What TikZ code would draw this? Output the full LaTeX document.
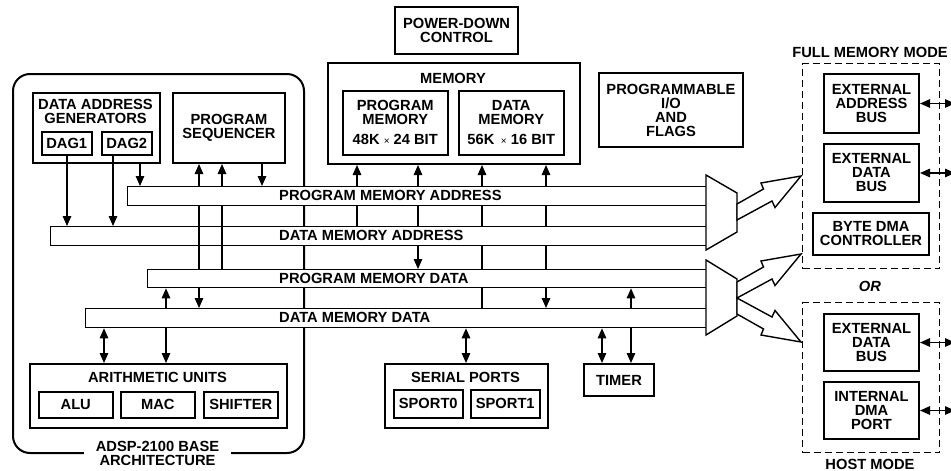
\documentclass[tikz,border=0pt]{standalone}
\usepackage{fontspec}
\setmainfont{Liberation Sans}
\usetikzlibrary{arrows.meta}
\begin{document}
\begin{tikzpicture}[x=1pt,y=-1pt,
  txt/.style={font=\fontsize{14.7}{14}\selectfont\bfseries, align=center, inner sep=0pt},
  mainbox/.style={draw, line width=2pt, fill=white, txt, anchor=north west},
  subbox/.style={draw, line width=1.5pt, fill=white, txt, anchor=north west},
  busbox/.style={draw, line width=1.3pt, fill=white, anchor=north west, inner sep=0pt},
  dashbox/.style={draw, line width=1.4pt, dash pattern=on 7pt off 4pt, anchor=north west, inner sep=0pt},
  conn/.style={line width=1.3pt},
  arr/.style={conn, -{Triangle[length=10pt,width=8.5pt]}},
  darr/.style={conn, {Triangle[length=10pt,width=8.5pt]}-{Triangle[length=10pt,width=8.5pt]}},
  muxst/.style={draw, line width=1.4pt, fill=white, line join=miter},
  boltst/.style={draw, line width=1.4pt, fill=white, line join=miter},
]
\useasboundingbox (0,0) rectangle (951,471);

% base architecture frame
\node[draw, line width=2pt, rounded corners=17pt, minimum width=291pt, minimum height=379pt, anchor=north west] (base) at (12,73) {};
\node[txt, fill=white, inner xsep=12pt, inner ysep=3pt] (baselbl) at (157.5,453.5) {ADSP-2100 BASE\\ARCHITECTURE};

% DAG and sequencer
\node[mainbox, minimum width=127pt, minimum height=70pt] (dag) at (32,92) {};
\node[txt] (dagt) at (95.5,111) {DATA ADDRESS\\GENERATORS};
\node[subbox, minimum width=50pt, minimum height=23pt] (dag1) at (41,131) {DAG1};
\node[subbox, minimum width=50pt, minimum height=23pt] (dag2) at (101,131) {DAG2};
\node[mainbox, minimum width=112pt, minimum height=70pt] (ps) at (172,92) {PROGRAM\\SEQUENCER};

% memory
\node[mainbox, minimum width=252pt, minimum height=101pt] (mem) at (327,62) {};
\node[txt] (memt) at (453,78) {MEMORY};
\node[subbox, minimum width=105pt, minimum height=64pt] (pm) at (342,90) {PROGRAM\\MEMORY\\[6pt]48K {\fontsize{10}{10}\selectfont\mdseries ×} 24 BIT};
\node[subbox, minimum width=105pt, minimum height=64pt] (dm) at (458,90) {DATA\\MEMORY\\[6pt]56K \,{\fontsize{10}{10}\selectfont\mdseries ×} 16 BIT};
\node[mainbox, minimum width=123pt, minimum height=47pt] (pd) at (394,6) {POWER-DOWN\\CONTROL};
\node[mainbox, minimum width=144pt, minimum height=74pt] (pio) at (598,72) {PROGRAMMABLE\\I/O\\AND\\FLAGS};

% buses
\node[busbox, minimum width=579pt, minimum height=19pt] (pma) at (127,186) {};
\node[txt, anchor=west] (pmat) at (279,195.5) {PROGRAM MEMORY ADDRESS};
\node[busbox, minimum width=656pt, minimum height=19pt] (dma) at (50,226) {};
\node[txt, anchor=west] (dmat) at (279,235.5) {DATA MEMORY ADDRESS};
\node[busbox, minimum width=559pt, minimum height=18pt] (pmd) at (147,269) {};
\node[txt, anchor=west] (pmdt) at (279,278) {PROGRAM MEMORY DATA};
\node[busbox, minimum width=621pt, minimum height=19pt] (dmd) at (85,308) {};
\node[txt, anchor=west] (dmdt) at (279,317.5) {DATA MEMORY DATA};

% lower blocks
\node[mainbox, minimum width=257pt, minimum height=64pt] (au) at (29,363) {};
\node[txt] (aut) at (157.5,377.5) {ARITHMETIC UNITS};
\node[subbox, minimum width=74pt, minimum height=26pt] (alu) at (38,391) {ALU};
\node[subbox, minimum width=74pt, minimum height=26pt] (mac) at (120,391) {MAC};
\node[subbox, minimum width=74pt, minimum height=26pt] (sh) at (203,391) {SHIFTER};
\node[mainbox, minimum width=163pt, minimum height=64pt] (sp) at (384,363) {};
\node[txt] (spt) at (465.5,377.5) {SERIAL PORTS};
\node[subbox, minimum width=69pt, minimum height=28pt] (sp0) at (393,389) {SPORT0};
\node[subbox, minimum width=69pt, minimum height=28pt] (sp1) at (470,389) {SPORT1};
\node[mainbox, minimum width=70pt, minimum height=32pt] (timer) at (583,363) {TIMER};

% right side
\node[txt] (fmm) at (870,52) {FULL MEMORY MODE};
\node[dashbox, minimum width=137pt, minimum height=205pt] (full) at (802,63) {};
\node[mainbox, minimum width=95pt, minimum height=59pt] (eab) at (823,73) {EXTERNAL\\ADDRESS\\BUS};
\node[mainbox, minimum width=95pt, minimum height=58pt] (edb) at (823,143) {EXTERNAL\\DATA\\BUS};
\node[mainbox, minimum width=116pt, minimum height=42pt] (bdma) at (812,212) {BYTE DMA\\CONTROLLER};
\node[txt, font=\fontsize{14.7}{14}\selectfont\bfseries\itshape] (or) at (870,286) {OR};
\node[dashbox, minimum width=137pt, minimum height=150pt] (host) at (802,302) {};
\node[mainbox, minimum width=95pt, minimum height=57pt] (hedb) at (823,313) {EXTERNAL\\DATA\\BUS};
\node[mainbox, minimum width=95pt, minimum height=57pt] (idma) at (823,381) {INTERNAL\\DMA\\PORT};
\node[txt] (hm) at (870,464.5) {HOST MODE};

\coordinate (redge) at (955,0);
\foreach \n in {eab,edb,hedb,idma} {\draw[darr] (\n.east) -- (\n.east -| redge);}

% connectors, left part
\draw[arr] (67,0 |- dag1.south) -- (67,0 |- dma.north);
\draw[arr] (113,0 |- dag2.south) -- (113,0 |- dma.north);
\draw[arr] (140,0 |- dag.south) -- (140,0 |- pma.north);
\draw[arr] (199,0 |- pma.north) -- (199,0 |- ps.south);
\draw[arr] (222,0 |- pma.north) -- (222,0 |- ps.south);
\draw[arr] (262,0 |- ps.south) -- (262,0 |- pma.north);
\draw[conn] (199,0 |- pma.south) -- (199,0 |- pmd.north);
\draw[conn] (222,0 |- pma.south) -- (222,0 |- pmd.north);
\draw[arr] (166,0 |- dmd.north) -- (166,0 |- pmd.south);
\draw[arr] (199,0 |- pmd.south) -- (199,0 |- dmd.north);
\draw[darr] (104,0 |- dmd.south) -- (104,0 |- au.north);
\draw[arr] (166,0 |- dmd.south) -- (166,0 |- au.north);

% connectors, memory and peripherals
\foreach \x in {357,418,482,546} {
  \draw[arr] (\x,0 |- pma.north) -- (\x,0 |- mem.south);
  \draw[conn] (\x,0 |- pma.south) -- (\x,0 |- dma.north);
}
\draw[arr] (418,0 |- dma.south) -- (418,0 |- pmd.north);
\draw[conn] (482,0 |- dma.south) -- (482,0 |- pmd.north);
\draw[conn] (546,0 |- dma.south) -- (546,0 |- pmd.north);
\draw[conn] (482,0 |- pmd.south) -- (482,0 |- dmd.north);
\draw[arr] (546,0 |- pmd.south) -- (546,0 |- dmd.north);
\draw[arr] (631,0 |- dmd.north) -- (631,0 |- pmd.south);
\draw[darr] (466,0 |- dmd.south) -- (466,0 |- sp.north);
\draw[darr] (602,0 |- dmd.south) -- (602,0 |- timer.north);
\draw[arr] (631,0 |- dmd.south) -- (631,0 |- timer.north);

% multiplexers
\draw[muxst] (706,175) coordinate (mux1) -- (737,193) -- (737,232) -- (706,250) -- cycle;
\draw[muxst] (706,260) coordinate (mux2) -- (737,279) -- (737,316) -- (706,335) -- cycle;

% bolt arrows
\begin{scope}[shift={(737,220)}]
  \draw[boltst] (0,-16) -- (26.5,-31) -- (24,-37) -- (64,-44) -- (38,-12.5) -- (35,-19) -- (0,0) -- cycle;
\end{scope}
\begin{scope}[shift={(737,298)}]
  \draw[boltst] (0,-16) -- (26.5,-31) -- (24,-37) -- (64,-44) -- (38,-12.5) -- (35,-19) -- (0,0) -- cycle;
\end{scope}
\begin{scope}[shift={(737,298)}, yscale=-1]
  \draw[boltst] (0,-16) -- (26.5,-31) -- (24,-37) -- (64,-44) -- (38,-12.5) -- (35,-19) -- (0,0) -- cycle;
\end{scope}
\end{tikzpicture}
\end{document}
